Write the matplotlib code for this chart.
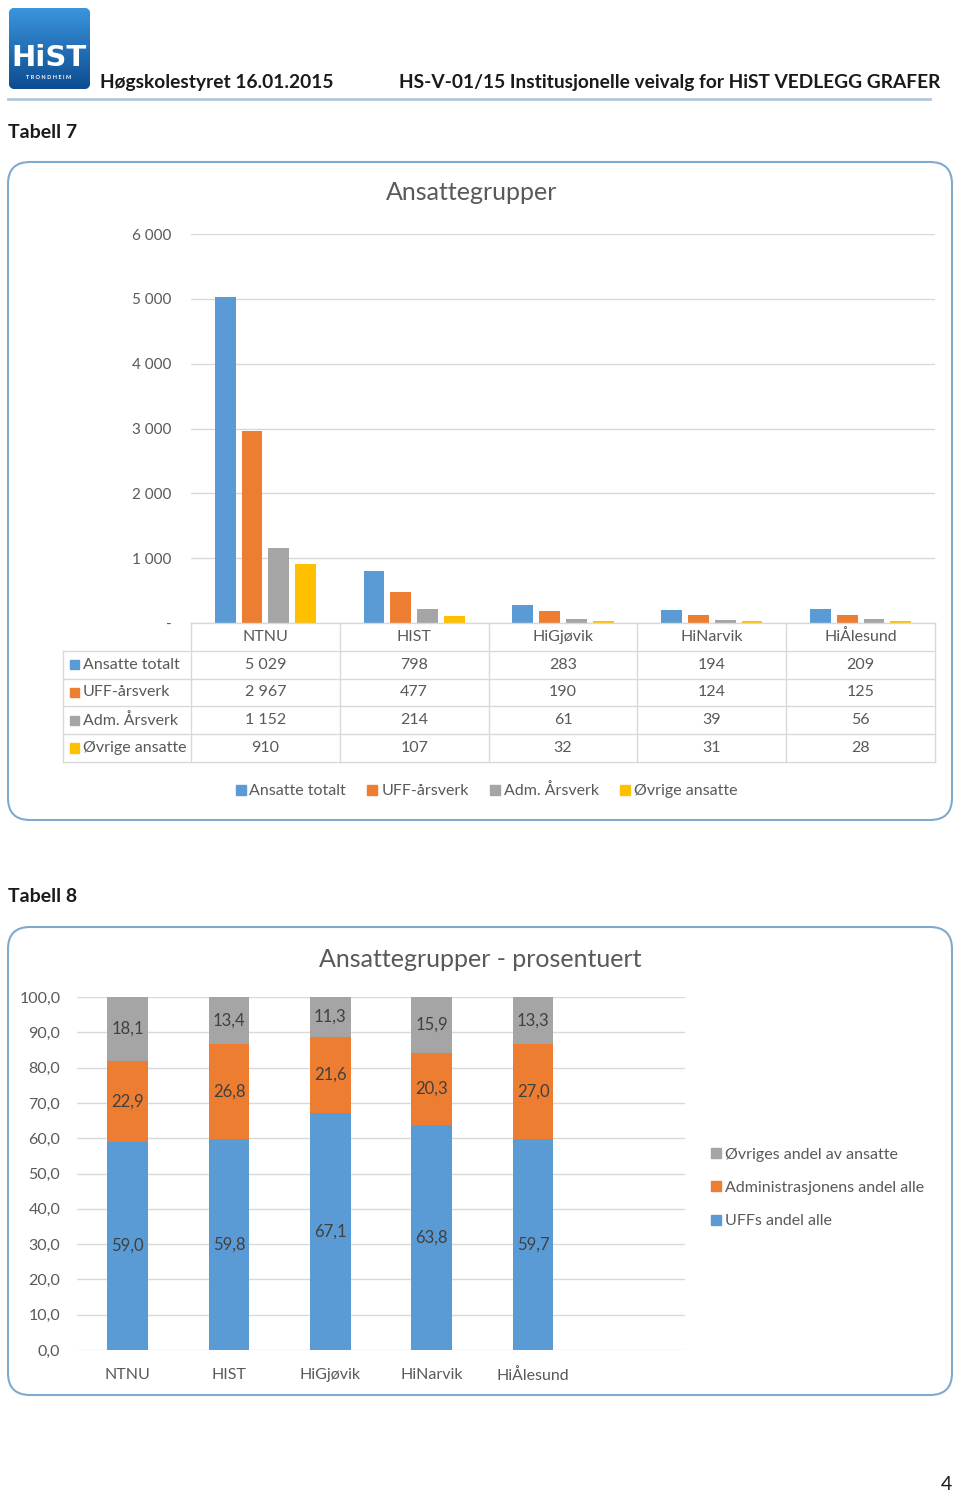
import numpy as np
import matplotlib
matplotlib.use("Agg")
import matplotlib.pyplot as plt
from matplotlib.patches import FancyBboxPatch, Rectangle
from matplotlib.lines import Line2D

plt.rcParams['font.family'] = ['Lato', 'DejaVu Sans']

# --- data ---
skoler = ["NTNU", "HIST", "HiGjøvik", "HiNarvik", "HiÅlesund"]
serier1 = ["Ansatte totalt", "UFF-årsverk", "Adm. Årsverk", "Øvrige ansatte"]
ansatte_totalt = [5029, 798, 283, 194, 209]
uff_arsverk = [2967, 477, 190, 124, 125]
adm_arsverk = [1152, 214, 61, 39, 56]
ovrige_ansatte = [910, 107, 32, 31, 28]
y1_ticks = [0, 1000, 2000, 3000, 4000, 5000, 6000]

serier2 = ["UFFs andel alle", "Administrasjonens andel alle", "Øvriges andel av ansatte"]
uff_andel = [59.0, 59.8, 67.1, 63.8, 59.7]
adm_andel = [22.9, 26.8, 21.6, 20.3, 27.0]
ovr_andel = [18.1, 13.4, 11.3, 15.9, 13.3]
y2_ticks = [0, 10, 20, 30, 40, 50, 60, 70, 80, 90, 100]

farger = ["#5B9BD5", "#ED7D31", "#A5A5A5", "#FFC000"]
tekst = "#595959"
grid = "#D9D9D9"
kant = "#7FAAD0"

W, H = 960, 1496
fig = plt.figure(figsize=(W / 100, H / 100), dpi=100)

def fx(px):
    return px / W

def fy(py):
    return 1 - py / H

# background axes in pixel coordinates
bg = fig.add_axes([0, 0, 1, 1], zorder=-1)
bg.set_xlim(0, W)
bg.set_ylim(H, 0)
bg.axis("off")

# logo
logo = FancyBboxPatch((9, 8), 81, 81, boxstyle="round,pad=0,rounding_size=6",
                      fc="#1E6DB6", ec="none")
bg.add_patch(logo)
grad = np.linspace(0, 1, 100).reshape(-1, 1)
im = bg.imshow(grad, extent=(9, 90, 89, 8), cmap=matplotlib.colors.LinearSegmentedColormap.from_list(
    "l", ["#3A95DC", "#0D4C91"]), aspect="auto", zorder=1)
im.set_clip_path(logo)
bg.text(49, 58, "HiST", color="white", fontsize=21, fontweight="bold", ha="center",
        va="center", family="DejaVu Sans", zorder=2)
bg.text(49, 77, "T R O N D H E I M", color="white", fontsize=4.0, fontweight="bold",
        ha="center", va="center", zorder=2)

bg.text(100, 82, "Høgskolestyret 16.01.2015", fontsize=13.8, fontweight="bold",
        color="#1a1a1a", va="center", ha="left")
bg.text(940, 82, "HS-V-01/15 Institusjonelle veivalg for HiST VEDLEGG GRAFER", fontsize=13.8,
        fontweight="bold", color="#1a1a1a", va="center", ha="right")
bg.plot([8, 930], [99, 99], color="#B4C7DA", lw=2)
bg.text(8, 132, "Tabell 7", fontsize=14, fontweight="bold", color="#1a1a1a", va="center")
bg.text(8, 896, "Tabell 8", fontsize=14, fontweight="bold", color="#1a1a1a", va="center")
bg.text(952, 1485, "4", fontsize=14, color="#1a1a1a", va="center", ha="right")

for (x0, y0, x1, y1) in [(8, 162, 952, 820), (8, 927, 952, 1395)]:
    bg.add_patch(FancyBboxPatch((x0, y0), x1 - x0, y1 - y0,
                                boxstyle="round,pad=0,rounding_size=22",
                                fc="white", ec=kant, lw=1.5))

# --- chart 1 ---
ax1 = fig.add_axes([fx(191), fy(623), fx(935) - fx(191), (623 - 234) / H])
x = np.arange(len(skoler))
verdier1 = [ansatte_totalt, uff_arsverk, adm_arsverk, ovrige_ansatte]
offs = [-0.27, -0.09, 0.09, 0.27]
for i, v in enumerate(verdier1):
    ax1.bar(x + offs[i], v, width=0.14, color=farger[i], zorder=3)
ax1.set_xlim(-0.5, len(skoler) - 0.5)
ax1.set_ylim(0, 6000)
ax1.set_yticks(y1_ticks)
ax1.set_yticklabels(["-" if t == 0 else f"{t:,}".replace(",", " ") for t in y1_ticks])
ax1.tick_params(axis="y", length=0, pad=14, labelsize=11, labelcolor=tekst)
ax1.set_xticks([])
ax1.grid(axis="y", color=grid, lw=1, zorder=0)
for s in ax1.spines.values():
    s.set_visible(False)
bg.text(472, 192, "Ansattegrupper", ha="center", va="center", fontsize=18, color=tekst)

# table under chart 1
tab = fig.add_axes([fx(191), fy(762), fx(935) - fx(191), (762 - 623) / H])
tab.set_xlim(-0.5, len(skoler) - 0.5)
tab.set_ylim(5, 0)
tab.axis("off")
lblx = -1.36
lc = "#D9D9D9"
tab.plot([-0.5, len(skoler) - 0.5], [0, 0], color=lc, lw=1, clip_on=False)
for r in range(1, 6):
    tab.plot([lblx, len(skoler) - 0.5], [r, r], color=lc, lw=1, clip_on=False)
for c in range(len(skoler) + 1):
    tab.plot([c - 0.5, c - 0.5], [0, 5], color=lc, lw=1, clip_on=False)
tab.plot([lblx, lblx], [1, 5], color=lc, lw=1, clip_on=False)
for j, s in enumerate(skoler):
    tab.text(j, 0.5, s, ha="center", va="center", fontsize=11.5, color=tekst)
for i, v in enumerate(verdier1):
    tab.add_patch(Rectangle((lblx + 0.045, i + 1.5 - 0.17), 0.06, 0.34, color=farger[i],
                            clip_on=False))
    tab.text(lblx + 0.135, i + 1.5, serier1[i], ha="left", va="center", fontsize=11.5,
             color=tekst, clip_on=False)
    for j, val in enumerate(v):
        tab.text(j, i + 1.5, f"{val:,}".replace(",", " "), ha="center", va="center",
                 fontsize=11.5, color=tekst)

h1 = [Line2D([], [], marker="s", ls="none", color=c, markersize=7) for c in farger]
fig.legend(h1, serier1, loc="center", bbox_to_anchor=(fx(485), fy(791)), ncol=4,
           frameon=False, fontsize=11.5, labelcolor=tekst, handletextpad=0.05,
           columnspacing=1.15, handlelength=1.0)

# --- chart 2 ---
ax2 = fig.add_axes([fx(77), fy(1350), fx(685) - fx(77), (1350 - 997) / H])
x2 = np.arange(len(skoler))
bunn = np.zeros(len(skoler))
for i, v in enumerate([uff_andel, adm_andel, ovr_andel]):
    ax2.bar(x2, v, bottom=bunn, width=0.4, color=farger[i], zorder=3)
    for j, val in enumerate(v):
        ax2.text(j, bunn[j] + val / 2, f"{val:.1f}".replace(".", ","), ha="center",
                 va="center", fontsize=12, color="#404040", zorder=4)
    bunn = bunn + np.array(v)
ax2.set_xlim(-0.5, 5.5)
ax2.set_ylim(0, 100)
ax2.set_yticks(y2_ticks)
ax2.set_yticklabels([f"{t:.1f}".replace(".", ",") for t in y2_ticks])
ax2.set_xticks(x2)
ax2.set_xticklabels(skoler)
ax2.tick_params(axis="y", length=0, pad=12, labelsize=11.5, labelcolor=tekst)
ax2.tick_params(axis="x", length=0, pad=13, labelsize=11.5, labelcolor=tekst)
ax2.grid(axis="y", color=grid, lw=1, zorder=0)
for s in ax2.spines.values():
    s.set_visible(False)
bg.text(480, 959, "Ansattegrupper - prosentuert", ha="center", va="center",
        fontsize=18, color=tekst)

h2 = [Line2D([], [], marker="s", ls="none", color=c, markersize=7) for c in farger[2::-1]]
fig.legend(h2, serier2[::-1], loc="upper left", bbox_to_anchor=(fx(694), fy(1133)),
           frameon=False, fontsize=11.5, labelcolor=tekst, handletextpad=0.05,
           handlelength=1.0, labelspacing=1.2)

fig.savefig("out.png", dpi=100)
